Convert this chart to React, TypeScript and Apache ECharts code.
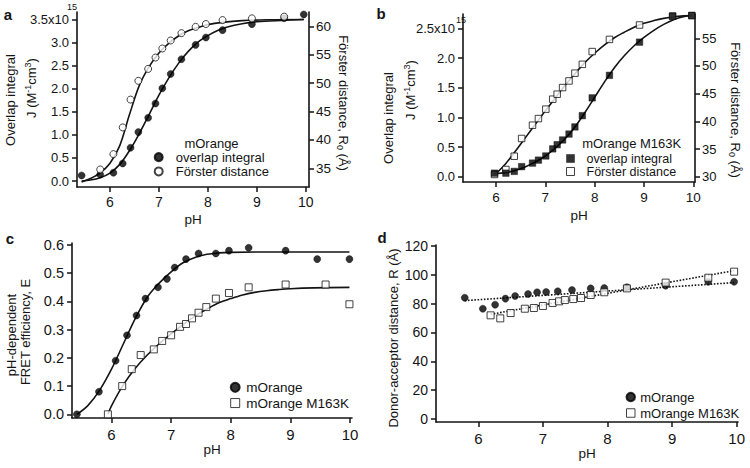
import { useEffect, useRef } from 'react';
import * as echarts from 'echarts';

// ---- panel a: mOrange, overlap integral (x10^15) and Förster distance ----
const phA = [5.42, 5.8, 6.07, 6.26, 6.42, 6.58, 6.78, 6.93, 7.07, 7.24, 7.46, 7.75, 7.96, 8.3, 8.9, 9.56, 9.96];
const overlapA = [0.12, 0.14, 0.18, 0.38, 0.72, 1.06, 1.37, 1.68, 2.01, 2.32, 2.64, 2.95, 3.11, 3.27, 3.4, 3.53, 3.61];
const phA_R0 = [5.8, 6.07, 6.26, 6.42, 6.58, 6.78, 6.93, 7.07, 7.24, 7.46, 7.75, 7.96, 8.3, 8.9, 9.56];
const forsterA = [34.8, 37.5, 42.2, 47.1, 50.4, 52.5, 54.5, 56.1, 57.5, 58.8, 59.9, 60.4, 61.1, 61.4, 61.7];
const fitPhA = [5.42, 5.6, 5.8, 6.0, 6.2, 6.4, 6.6, 6.8, 7.0, 7.2, 7.4, 7.6, 7.8, 8.0, 8.2, 8.4, 8.7, 9.0, 9.5, 9.96];
const fitOverlapA = [0.0, 0.02, 0.07, 0.17, 0.36, 0.66, 1.03, 1.44, 1.86, 2.23, 2.55, 2.81, 3.01, 3.15, 3.26, 3.34, 3.41, 3.45, 3.48, 3.5];
const fitPhA_R0 = [5.42, 5.6, 5.8, 6.0, 6.2, 6.4, 6.6, 6.8, 7.0, 7.2, 7.4, 7.6, 7.8, 8.0, 8.3, 8.7, 9.2, 9.96];
const fitForsterA = [32.6, 33.2, 34.2, 35.9, 39.0, 44.5, 49.6, 52.9, 55.3, 57.0, 58.3, 59.2, 59.8, 60.3, 60.7, 61.0, 61.15, 61.2];

// ---- panel b: mOrange M163K ----
const phB = [5.97, 6.2, 6.37, 6.52, 6.74, 6.86, 7.01, 7.15, 7.24, 7.35, 7.48, 7.6, 7.75, 7.95, 8.3, 8.91, 9.58, 9.97];
const overlapB = [0.06, 0.06, 0.09, 0.17, 0.23, 0.28, 0.35, 0.47, 0.54, 0.62, 0.72, 0.84, 1.03, 1.33, 1.71, 2.27, 2.71, 2.72];
const forsterB = [30.4, 31.3, 33.7, 36.9, 39.3, 40.5, 42.2, 44.0, 44.9, 46.1, 47.3, 48.7, 50.3, 52.6, 54.8, 57.4, 59.0, 59.1];
const fitPhB = [5.97, 6.2, 6.4, 6.6, 6.8, 7.0, 7.2, 7.4, 7.6, 7.8, 8.0, 8.2, 8.4, 8.6, 8.8, 9.0, 9.2, 9.4, 9.6, 9.8, 9.97];
const fitOverlapB = [0.05, 0.07, 0.11, 0.17, 0.25, 0.35, 0.48, 0.64, 0.84, 1.08, 1.34, 1.6, 1.84, 2.04, 2.21, 2.35, 2.47, 2.57, 2.65, 2.7, 2.72];
const fitForsterB = [30.3, 32.4, 34.7, 37.1, 39.5, 41.9, 44.2, 46.5, 48.6, 50.6, 52.3, 53.8, 55.1, 56.1, 57.0, 57.7, 58.2, 58.6, 58.9, 59.05, 59.1];

// ---- panel c: FRET efficiency ----
const phC1 = [5.42, 5.79, 6.07, 6.26, 6.42, 6.57, 6.78, 6.93, 7.06, 7.25, 7.46, 7.75, 7.97, 8.3, 8.92, 9.45, 9.99];
const effC1 = [0.0, 0.08, 0.19, 0.28, 0.35, 0.41, 0.45, 0.48, 0.52, 0.55, 0.57, 0.57, 0.58, 0.59, 0.58, 0.55, 0.55];
const phC2 = [5.94, 6.18, 6.34, 6.49, 6.71, 6.85, 7.0, 7.15, 7.25, 7.35, 7.46, 7.59, 7.75, 7.97, 8.3, 8.92, 9.59, 9.99];
const effC2 = [0.0, 0.1, 0.16, 0.21, 0.23, 0.26, 0.28, 0.31, 0.32, 0.34, 0.36, 0.38, 0.41, 0.43, 0.45, 0.46, 0.46, 0.39];
const fitPhC1 = [5.42, 5.6, 5.8, 6.0, 6.2, 6.4, 6.6, 6.8, 7.0, 7.2, 7.4, 7.6, 7.8, 8.0, 8.5, 9.0, 9.99];
const fitEffC1 = [0.0, 0.03, 0.085, 0.16, 0.25, 0.34, 0.415, 0.465, 0.505, 0.537, 0.556, 0.567, 0.572, 0.574, 0.575, 0.575, 0.575];
const fitPhC2 = [5.94, 6.0, 6.2, 6.4, 6.6, 6.8, 7.0, 7.2, 7.4, 7.6, 7.8, 8.0, 8.2, 8.4, 8.6, 8.8, 9.0, 9.4, 9.99];
const fitEffC2 = [0.0, 0.03, 0.105, 0.163, 0.21, 0.25, 0.285, 0.318, 0.348, 0.373, 0.395, 0.41, 0.423, 0.432, 0.438, 0.442, 0.445, 0.448, 0.45];

// ---- panel d: donor-acceptor distance ----
const phD1 = [5.79, 6.07, 6.26, 6.42, 6.57, 6.77, 6.91, 7.05, 7.23, 7.45, 7.74, 7.95, 8.3, 8.9, 9.56, 9.96];
const distD1 = [84.1, 76.5, 79.3, 83.5, 85.3, 86.7, 87.9, 88.1, 88.6, 89.5, 90.6, 90.9, 91.4, 92.5, 95.2, 95.2];
const phD2 = [6.19, 6.34, 6.5, 6.72, 6.86, 7.0, 7.15, 7.25, 7.34, 7.47, 7.59, 7.74, 7.95, 8.3, 8.9, 9.56, 9.96];
const distD2 = [71.9, 69.8, 73.5, 76.5, 77.0, 78.4, 80.5, 81.6, 82.5, 83.2, 83.9, 86.0, 87.9, 90.6, 94.6, 98.0, 102.2];
const fitPhD1 = [5.79, 9.96];
const fitDistD1 = [82.1, 94.6];
const fitPhD2 = [6.19, 9.96];
const fitDistD2 = [72.6, 102.9];

// tick values
const phTicks = [6, 7, 8, 9, 10];
const overlapTicksA = [0, 0.5, 1, 1.5, 2, 2.5, 3, 3.5];
const forsterTicksA = [35, 40, 45, 50, 55, 60];
const overlapTicksB = [0, 0.5, 1, 1.5, 2, 2.5];
const forsterTicksB = [30, 35, 40, 45, 50, 55];
const effTicks = [0, 0.1, 0.2, 0.3, 0.4, 0.5, 0.6];
const distTicks = [0, 20, 40, 60, 80, 100, 120];

const FONT = '"Liberation Sans", Arial, Helvetica, sans-serif';
const INK = '#141414';
const SQUARE = 'path://M0,0H10V10H0Z';

const pairs = (xs: number[], ys: number[]) => xs.map((x, i) => [x, ys[i]]);

function axis(
  gridIndex: number,
  min: number,
  max: number,
  ticks: number[],
  opts: {
    position?: string;
    margin?: number;
    size?: number;
    formatter?: (v: number) => string;
    name?: string;
    nameGap?: number;
  } = {},
) {
  return {
    type: 'value',
    gridIndex,
    min,
    max,
    position: opts.position,
    name: opts.name,
    nameLocation: 'middle',
    nameGap: opts.nameGap,
    nameTextStyle: { color: INK, fontSize: 13.5, fontFamily: FONT },
    axisLine: { show: true, onZero: false, lineStyle: { color: INK, width: 1.6 } },
    axisTick: { show: true, length: 5, customValues: ticks, lineStyle: { color: INK, width: 1.5 } },
    axisLabel: {
      customValues: ticks,
      color: INK,
      fontSize: opts.size ?? 13,
      fontFamily: FONT,
      margin: opts.margin ?? 8,
      formatter: opts.formatter,
    },
    splitLine: { show: false },
  };
}

const fit = (x: number, y: number, xs: number[], ys: number[], dotted = false) => ({
  type: 'line',
  xAxisIndex: x,
  yAxisIndex: y,
  data: pairs(xs, ys),
  smooth: dotted ? false : 0.35,
  symbol: 'none',
  silent: true,
  z: 1,
  lineStyle: { color: INK, width: 1.6, type: dotted ? 'dotted' : 'solid' },
});

const dots = (
  name: string,
  x: number,
  y: number,
  xs: number[],
  ys: number[],
  symbol: string,
  filled: boolean,
  size: number,
) => ({
  name,
  type: 'scatter',
  xAxisIndex: x,
  yAxisIndex: y,
  data: pairs(xs, ys),
  symbol,
  symbolSize: size,
  z: 3,
  itemStyle: filled
    ? { color: '#000', borderColor: '#000', borderWidth: 0.5 }
    : { color: '#fff', borderColor: INK, borderWidth: 1 },
});

const text = (x: number, y: number, str: string, rotation = 0, extra: Record<string, unknown> = {}) => ({
  type: 'text',
  x,
  y,
  rotation,
  silent: true,
  style: {
    text: str,
    fill: INK,
    fontSize: 13,
    fontFamily: FONT,
    lineHeight: 16,
    align: 'center',
    verticalAlign: 'middle',
    rich: {
      sup: { fontSize: 9, fontFamily: FONT, fill: INK, verticalAlign: 'top', lineHeight: 8 },
      sub: { fontSize: 9, fontFamily: FONT, fill: INK, verticalAlign: 'bottom', lineHeight: 8 },
    },
    ...extra,
  },
});

const legendText = { color: INK, fontSize: 13, fontFamily: FONT };
const filledSq = { color: '#000', borderColor: '#000', borderWidth: 0.5 };
const openSq = { color: '#fff', borderColor: INK, borderWidth: 1 };

export default function App() {
  const chartRef = useRef<HTMLDivElement>(null);

  useEffect(() => {
    if (!chartRef.current) return;
    const chart = echarts.init(chartRef.current, null, { renderer: 'svg' });

    chart.setOption({
      animation: false,
      backgroundColor: '#fff',
      textStyle: { fontFamily: FONT },
      grid: [
        { left: 77, top: 12, width: 232, height: 175 },
        { left: 463, top: 14, width: 232, height: 168 },
        { left: 72, top: 243, width: 280, height: 175 },
        { left: 436, top: 245, width: 302, height: 177 },
      ],
      xAxis: [
        axis(0, 5.326, 10.067, phTicks, { name: 'pH', nameGap: 25, size: 14 }),
        axis(1, 5.331, 10.034, phTicks, { name: 'pH', nameGap: 26, size: 13.5 }),
        axis(2, 5.338, 10.033, phTicks, { name: 'pH', nameGap: 24, size: 15, margin: 9 }),
        axis(3, 5.345, 10.02, phTicks, { name: 'pH', nameGap: 20, size: 15, margin: 9 }),
      ],
      yAxis: [
        axis(0, -0.13, 3.663, overlapTicksA, {
          formatter: (v: number) => (v === 3.5 ? '3.5x10' : v.toFixed(1)),
        }),
        axis(0, 31.71, 62.52, forsterTicksA, { position: 'right', margin: 7, size: 13.5 }),
        axis(1, -0.089, 2.745, overlapTicksB, {
          formatter: (v: number) => (v === 2.5 ? '2.5x10' : v.toFixed(1)),
        }),
        axis(1, 29.04, 59.39, forsterTicksB, { position: 'right', margin: 7 }),
        axis(2, -0.0131, 0.6071, effTicks, { formatter: (v: number) => v.toFixed(1), size: 14.5 }),
        axis(3, -2.08, 120.69, distTicks, { size: 14 }),
      ],
      legend: [
        {
          left: 153.7,
          top: 150,
          orient: 'vertical',
          padding: 0,
          itemGap: 0,
          itemWidth: 24,
          itemHeight: 8,
          selectedMode: false,
          textStyle: { ...legendText, lineHeight: 14.3 },
          data: [
            { name: 'overlap integral', icon: 'circle' },
            { name: 'Förster distance', icon: 'circle' },
          ],
        },
        {
          left: 566,
          top: 152,
          orient: 'vertical',
          padding: 0,
          itemGap: 0,
          itemWidth: 22,
          itemHeight: 8,
          selectedMode: false,
          textStyle: { ...legendText, fontSize: 12.5, lineHeight: 12 },
          data: [
            { name: 'overlap integral', icon: SQUARE, itemStyle: filledSq },
            { name: 'Förster distance', icon: SQUARE, itemStyle: openSq },
          ],
        },
        {
          left: 229.7,
          top: 379.5,
          orient: 'vertical',
          padding: 0,
          itemGap: 0,
          itemWidth: 12,
          itemHeight: 9,
          selectedMode: false,
          textStyle: { ...legendText, fontSize: 13.5, lineHeight: 15.7 },
          data: [{ name: 'mOrange', icon: 'circle' }, { name: 'mOrange M163K', icon: SQUARE, itemStyle: openSq }],
        },
        {
          left: 625.5,
          top: 389,
          orient: 'vertical',
          padding: 0,
          itemGap: 0,
          itemWidth: 9,
          itemHeight: 8.5,
          selectedMode: false,
          textStyle: { ...legendText, lineHeight: 16 },
          data: [{ name: 'mOrange', icon: 'circle' }, { name: 'mOrange M163K', icon: SQUARE, itemStyle: openSq }],
        },
      ],
      graphic: [
        text(8, 14, 'a', 0, { fontWeight: 'bold', fontSize: 15 }),
        text(381, 13, 'b', 0, { fontWeight: 'bold', fontSize: 15 }),
        text(10, 238, 'c', 0, { fontWeight: 'bold', fontSize: 15 }),
        text(382, 237, 'd', 0, { fontWeight: 'bold', fontSize: 15 }),
        // x10^15 exponents
        text(67, 7, '15', 0, { fontSize: 9, align: 'left' }),
        text(456, 20, '15', 0, { fontSize: 9, align: 'left' }),
        // axis titles a
        text(10, 100, 'Overlap integral', Math.PI / 2),
        text(31, 88, 'J (M{sup|-1}cm{sup|3})', Math.PI / 2),
        text(343, 103, 'Förster distance, R{sub|0} (Å)', -Math.PI / 2),
        text(211.5, 143.5, 'mOrange'),
        // axis titles b
        text(388, 118, 'Overlap integral', Math.PI / 2),
        text(410, 90, 'J (M{sup|-1}cm{sup|3})', Math.PI / 2),
        text(735, 110, 'Förster distance, R{sub|0} (Å)', -Math.PI / 2),
        text(631.7, 143.5, 'mOrange M163K'),
        // axis titles c, d
        text(11.5, 335, 'pH-dependent', Math.PI / 2),
        text(25, 332, 'FRET efficiency, E', Math.PI / 2),
        text(393, 338, 'Donor-acceptor distance, R (Å)', Math.PI / 2),
      ],
      series: [
        fit(0, 0, fitPhA, fitOverlapA),
        fit(0, 1, fitPhA_R0, fitForsterA),
        dots('overlap integral', 0, 0, phA, overlapA, 'circle', true, 7),
        dots('Förster distance', 0, 1, phA_R0, forsterA, 'circle', false, 7),

        fit(1, 2, fitPhB, fitOverlapB),
        fit(1, 3, fitPhB, fitForsterB),
        dots('Förster distance', 1, 3, phB, forsterB, 'rect', false, 6.5),
        dots('overlap integral', 1, 2, phB, overlapB, 'rect', true, 6.5),

        fit(2, 4, fitPhC1, fitEffC1),
        fit(2, 4, fitPhC2, fitEffC2),
        dots('mOrange', 2, 4, phC1, effC1, 'circle', true, 7),
        dots('mOrange M163K', 2, 4, phC2, effC2, 'rect', false, 7),

        fit(3, 5, fitPhD1, fitDistD1, true),
        fit(3, 5, fitPhD2, fitDistD2, true),
        dots('mOrange', 3, 5, phD1, distD1, 'circle', true, 7),
        dots('mOrange M163K', 3, 5, phD2, distD2, 'rect', false, 7),
      ],
    });

    return () => chart.dispose();
  }, []);

  return (
    <div
      ref={chartRef}
      style={{ position: 'absolute', left: 0, top: 0, width: 750, height: 468, background: '#fff' }}
    />
  );
}
